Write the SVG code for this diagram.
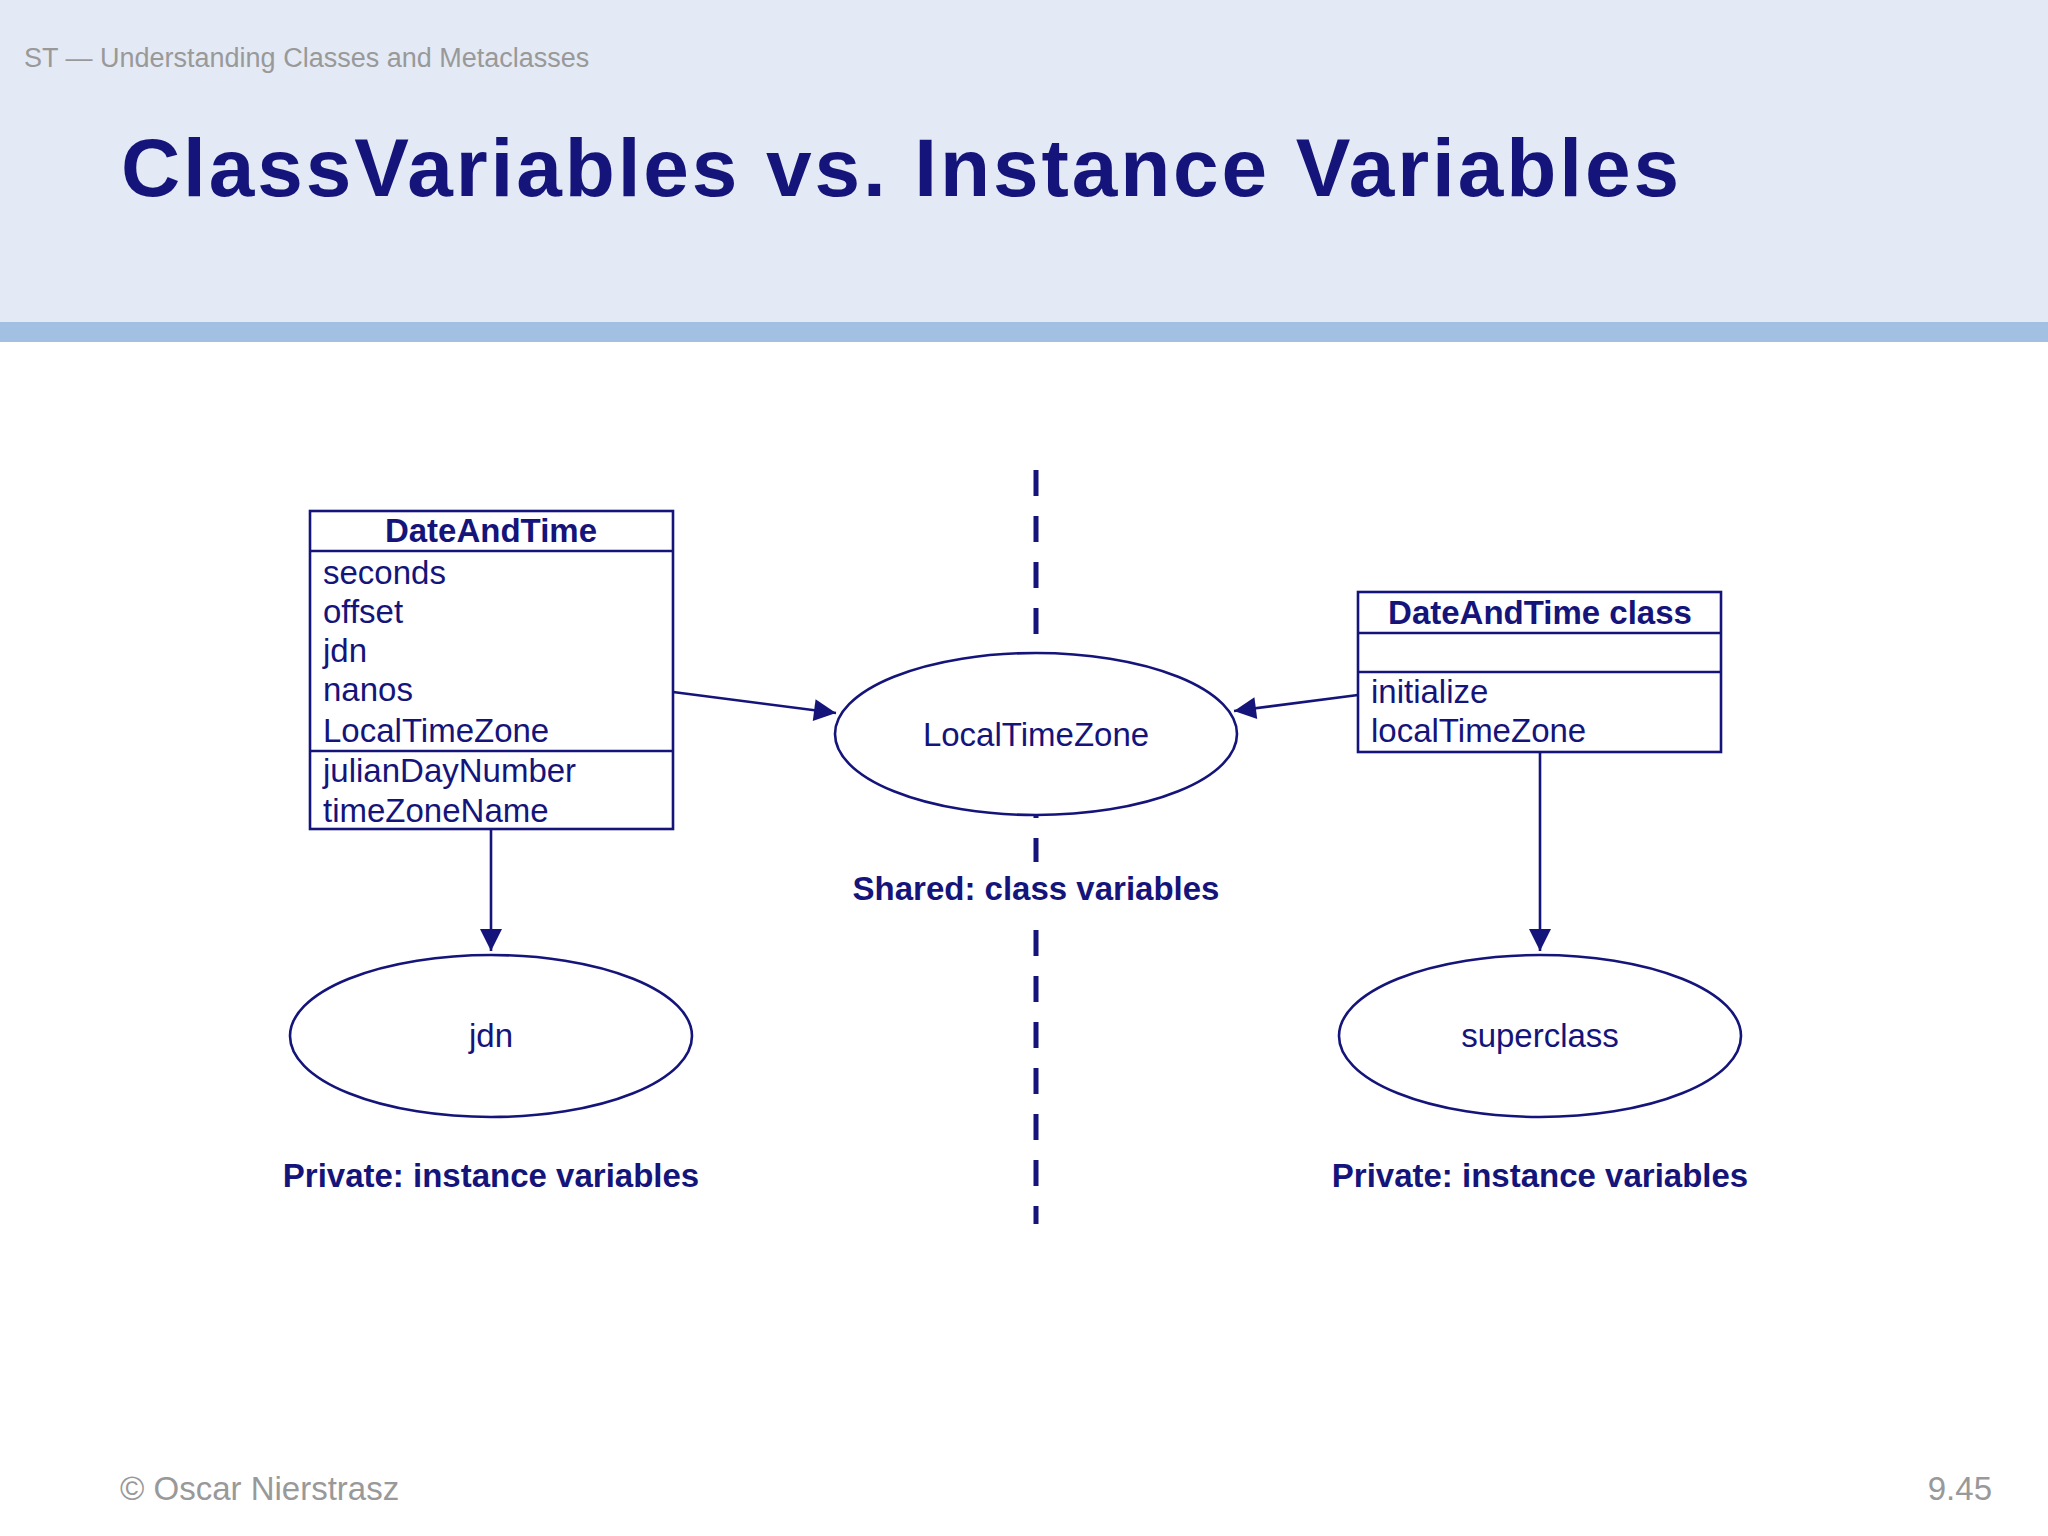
<svg xmlns="http://www.w3.org/2000/svg" width="2048" height="1536" viewBox="0 0 2048 1536">
<style>
.t{font-family:"Liberation Sans",Arial,sans-serif;fill:#14147a}
.n{fill:#fff;stroke:#14147a;stroke-width:2.6}
.c{stroke:#14147a;stroke-width:2.6;fill:none}
</style>
<defs><marker id="a" viewBox="0 0 10 10" refX="10" refY="5" markerWidth="10" markerHeight="10" orient="auto" markerUnits="userSpaceOnUse"><path d="M0,0L10,5L0,10z" fill="#14147a"/></marker>
<marker id="b" viewBox="0 0 10 10" refX="10" refY="5" markerWidth="28" markerHeight="22" orient="auto" markerUnits="userSpaceOnUse"><path d="M0,0L10,5L0,10z" fill="#14147a"/></marker></defs>
<rect width="2048" height="1536" fill="#fff"/>
<rect width="2048" height="322" fill="#e3eaf5"/>
<rect y="322" width="2048" height="20" fill="#a2c0e2"/>
<text x="24" y="67" class="t" style="fill:#999;font-size:27px">ST — Understanding Classes and Metaclasses</text>
<text x="121" y="196" class="t" style="font-size:82px;font-weight:bold;letter-spacing:5px" textLength="1563">ClassVariables vs. Instance Variables</text>
<g id="divider"><line x1="1036" y1="470" x2="1036" y2="1224" stroke="#14147a" stroke-width="5" stroke-dasharray="26,20"/></g>
<g id="connectors">
<line class="c" x1="673" y1="692" x2="836" y2="713" marker-end="url(#b)"/>
<line class="c" x1="1358" y1="695" x2="1234" y2="711" marker-end="url(#b)"/>
<line class="c" x1="491" y1="829" x2="491" y2="951" marker-end="url(#b)"/>
<line class="c" x1="1540" y1="752" x2="1540" y2="951" marker-end="url(#b)"/>
</g>
<g id="dateandtime">
<rect class="n" x="310" y="511" width="363" height="318"/>
<line class="c" x1="310" y1="551" x2="673" y2="551"/>
<line class="c" x1="310" y1="751" x2="673" y2="751"/>
<text x="491" y="542" class="t" style="font-size:33px;font-weight:bold" text-anchor="middle">DateAndTime</text>
<g class="t" style="font-size:33px"><text x="323" y="584">seconds</text><text x="323" y="623">offset</text><text x="323" y="662">jdn</text><text x="323" y="701">nanos</text><text x="323" y="742">LocalTimeZone</text><text x="323" y="782">julianDayNumber</text><text x="323" y="822">timeZoneName</text></g>
</g>
<g id="localtimezone"><ellipse class="n" cx="1036" cy="734" rx="201" ry="81"/><text x="1036" y="746" class="t" style="font-size:33px" text-anchor="middle">LocalTimeZone</text></g>
<g id="shared"><rect x="840" y="862" width="392" height="50" fill="#fff"/><text x="1036" y="900" class="t" style="font-size:33px;font-weight:bold" text-anchor="middle">Shared: class variables</text></g>
<g id="dateandtimeclass">
<rect class="n" x="1358" y="592" width="363" height="160"/>
<line class="c" x1="1358" y1="633" x2="1721" y2="633"/>
<line class="c" x1="1358" y1="672" x2="1721" y2="672"/>
<text x="1540" y="624" class="t" style="font-size:33px;font-weight:bold" text-anchor="middle">DateAndTime class</text>
<text x="1371" y="703" class="t" style="font-size:33px">initialize</text>
<text x="1371" y="742" class="t" style="font-size:33px">localTimeZone</text>
</g>
<g id="jdn"><ellipse class="n" cx="491" cy="1036" rx="201" ry="81"/><text x="491" y="1047" class="t" style="font-size:33px" text-anchor="middle">jdn</text></g>
<g id="superclass"><ellipse class="n" cx="1540" cy="1036" rx="201" ry="81"/><text x="1540" y="1047" class="t" style="font-size:33px" text-anchor="middle">superclass</text></g>
<text x="491" y="1187" class="t" style="font-size:33px;font-weight:bold" text-anchor="middle">Private: instance variables</text>
<text x="1540" y="1187" class="t" style="font-size:33px;font-weight:bold" text-anchor="middle">Private: instance variables</text>
<text x="120" y="1500" class="t" style="fill:#999;font-size:33px">© Oscar Nierstrasz</text>
<text x="1992" y="1500" class="t" style="fill:#999;font-size:33px" text-anchor="end">9.45</text>
</svg>
